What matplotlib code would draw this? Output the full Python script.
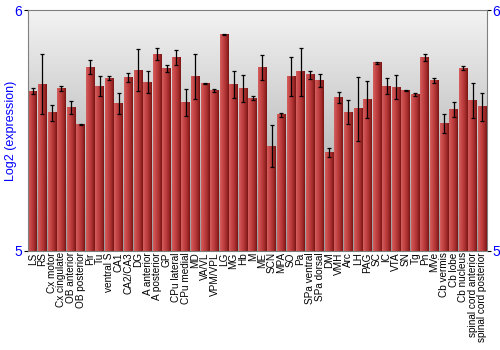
import matplotlib
matplotlib.use("Agg")
import matplotlib.pyplot as plt
import numpy as np

regions = ["LS", "RS", "Cx motor", "Cx cingulate", "OB anterior", "OB posterior",
           "Pir", "Tu", "ventral S", "CA1", "CA2/CA3", "DG", "A anterior",
           "A posterior", "GP", "CPu lateral", "CPu medial", "MD", "VA/VL",
           "VPM/VPL", "LG", "MG", "Hb", "M", "ME", "SCN", "MPA", "SO", "Pa",
           "SPa ventral", "SPa dorsal", "DM", "VMH", "Arc", "LH", "PAG", "SC",
           "IC", "VTA", "SN", "Tg", "Pn", "MVe", "Cb vermis", "Cb lobe",
           "Cb nucleus", "spinal cord anterior", "spinal cord posterior"]

expr = [5.664, 5.693, 5.574, 5.675, 5.596, 5.526, 5.763, 5.685, 5.717, 5.613,
        5.722, 5.751, 5.701, 5.817, 5.758, 5.804, 5.618, 5.724, 5.696, 5.667,
        5.899, 5.692, 5.676, 5.635, 5.761, 5.435, 5.565, 5.726, 5.744, 5.731,
        5.707, 5.408, 5.636, 5.576, 5.590, 5.629, 5.782, 5.685, 5.681, 5.667,
        5.651, 5.803, 5.708, 5.529, 5.588, 5.758, 5.625, 5.599]

err = [0.014, 0.125, 0.033, 0.010, 0.027, 0.003, 0.030, 0.042, 0.008, 0.043,
       0.019, 0.088, 0.045, 0.024, 0.014, 0.031, 0.056, 0.095, 0.003, 0.007,
       0.002, 0.055, 0.056, 0.010, 0.052, 0.088, 0.007, 0.081, 0.100, 0.017,
       0.028, 0.018, 0.023, 0.050, 0.133, 0.077, 0.004, 0.033, 0.051, 0.003,
       0.006, 0.013, 0.010, 0.041, 0.032, 0.008, 0.072, 0.058]

blue = "#0000ff"
plt.rcParams['font.family'] = ['Liberation Sans', 'DejaVu Sans']

fig = plt.figure(figsize=(5, 3.5), dpi=100)
ax = fig.add_axes([0.056, 0.283, 0.918, 0.688])

n = len(regions)
x = np.arange(n)
w = 0.92

# grey gradient background, light at top
bg = np.linspace(0, 1, 256).reshape(-1, 1)
ax.imshow(bg, cmap=matplotlib.colors.LinearSegmentedColormap.from_list("bg", ["#f3f3f3", "#9a9a9a"]),
          extent=[-0.5, n - 0.5, 5, 6], aspect='auto', zorder=0)

# red bars with horizontal shading
redmap = matplotlib.colors.LinearSegmentedColormap.from_list(
    "bar", ["#d46060", "#c94a4a", "#b83a3a", "#a02a2a", "#7a1414"])
grad = np.linspace(0, 1, 64).reshape(1, -1)
for xi, v in zip(x, expr):
    ax.imshow(grad, cmap=redmap, extent=[xi - w / 2, xi + w / 2, 5, v],
              aspect='auto', zorder=2)

ax.errorbar(x, expr, yerr=err, fmt='none', ecolor='black', elinewidth=0.9,
            capsize=1.6, capthick=0.9, zorder=3)

ax.set_xlim(-0.5, n - 0.5)
ax.set_ylim(5, 6)
ax.set_xticks(x)
ax.set_xticklabels(regions, rotation=90, fontsize=7.2)
ax.tick_params(axis='x', length=0, pad=1)
ax.set_yticks([5, 6])
ax.tick_params(axis='y', colors='black', labelcolor=blue, labelsize=10,
               length=3, right=True, labelright=True, pad=1)
ax.set_ylabel("Log2 (expression)", color=blue, fontsize=9, labelpad=-2)

for s in ax.spines.values():
    s.set_color("#808080")
    s.set_linewidth(0.8)

fig.savefig("out.png", dpi=100)
